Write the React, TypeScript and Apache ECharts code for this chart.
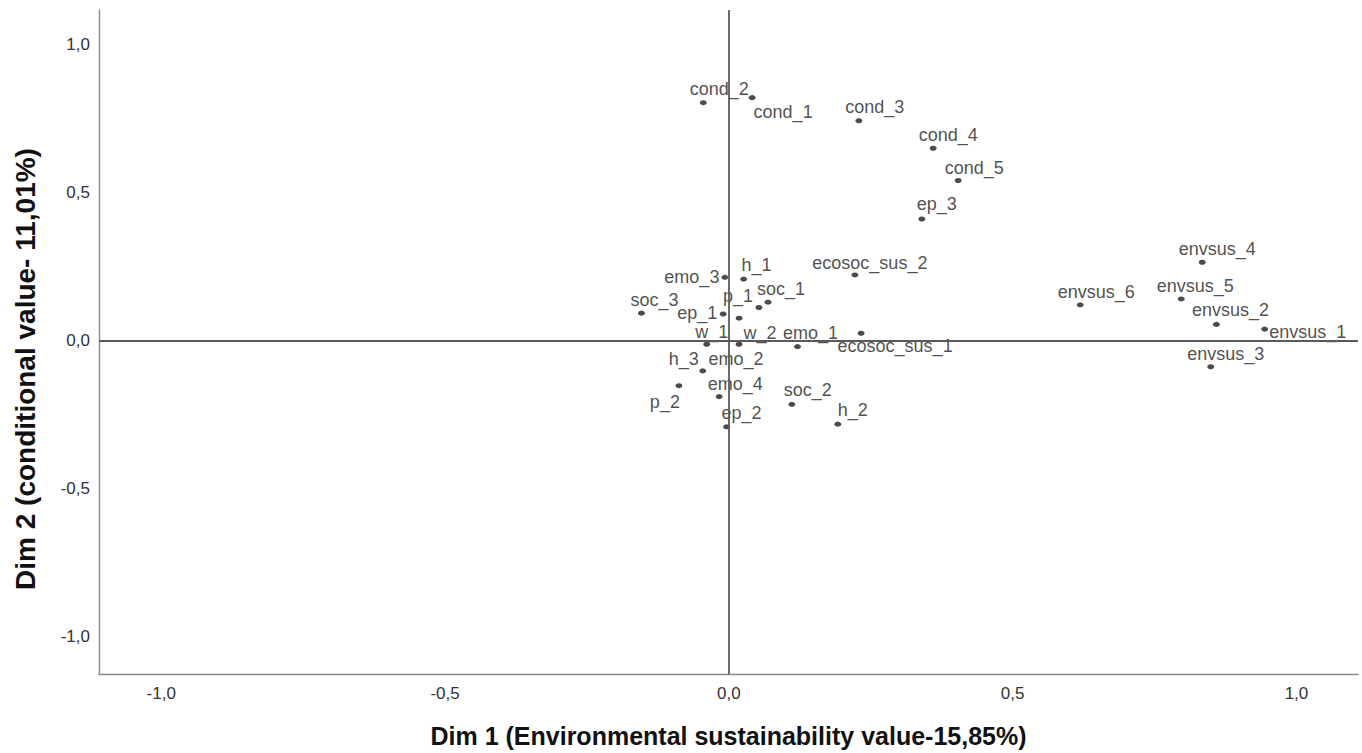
import React, { useEffect, useRef } from "react";
import * as echarts from "echarts";

// ---- data ----
const pointNames = [
  "cond_1", "cond_2", "cond_3", "cond_4", "cond_5",
  "ep_1", "ep_2", "ep_3",
  "ecosoc_sus_1", "ecosoc_sus_2",
  "h_1", "h_2", "h_3",
  "emo_1", "emo_2", "emo_3", "emo_4",
  "soc_1", "soc_2", "soc_3",
  "p_1", "p_2",
  "w_1", "w_2",
  "envsus_1", "envsus_2", "envsus_3", "envsus_4", "envsus_5", "envsus_6",
];
const dim1Values = [
  0.041, -0.045, 0.229, 0.36, 0.404,
  -0.01, -0.004, 0.34,
  0.233, 0.222,
  0.026, 0.192, -0.046,
  0.121, 0.018, -0.007, -0.017,
  0.069, 0.111, -0.154,
  0.018, -0.088,
  -0.039, 0.053,
  0.944, 0.859, 0.849, 0.834, 0.797, 0.619,
];
const dim2Values = [
  0.822, 0.805, 0.744, 0.651, 0.542,
  0.091, -0.29, 0.412,
  0.026, 0.223,
  0.209, -0.281, -0.101,
  -0.019, -0.011, 0.215, -0.188,
  0.131, -0.214, 0.094,
  0.077, -0.151,
  -0.011, 0.113,
  0.04, 0.056, -0.087, 0.266, 0.142, 0.122,
];
const tickValues = [-1, -0.5, 0, 0.5, 1];
const xAxisTitle = "Dim 1 (Environmental sustainability value-15,85%)";
const yAxisTitle = "Dim 2 (conditional value- 11,01%)";

// ---- label placement (layout, px offsets from each point) ----
const labelOffsets: [number, number][] = [
  [31, 14], [16, -14], [16, -14], [15, -13], [16, -13],
  [-26, -1], [15, -14], [15, -15],
  [34, 13], [15, -12],
  [13, -14], [15, -14], [-19, -12],
  [13, -14], [-3, 15], [-33, 0], [16, -13],
  [13, -13], [16, -14], [13, -13],
  [-1, -22], [-14, 16],
  [5, -12], [1, 25],
  [43, 3], [14, -14], [15, -13], [15, -13], [14, -13], [16, -13],
];

const fmt = (v: number) => v.toFixed(1).replace(".", ",");
const FONT = "Liberation Sans, Arial, sans-serif";

export default function App() {
  const ref = useRef<HTMLDivElement>(null);
  useEffect(() => {
    document.body.style.margin = "0";
    if (!ref.current) return;
    const chart = echarts.init(ref.current, undefined, { renderer: "svg" });
    const data = pointNames.map((n, i) => ({
      name: n,
      value: [dim1Values[i], dim2Values[i]],
      label: { offset: labelOffsets[i] },
    }));
    chart.setOption({
      animation: false,
      backgroundColor: "#ffffff",
      grid: { left: 99, right: 4, top: 10, bottom: 79 },
      xAxis: {
        type: "value",
        min: -1.1096,
        max: 1.1084,
        name: xAxisTitle,
        nameLocation: "middle",
        nameGap: 49,
        nameTextStyle: {
          fontFamily: FONT,
          fontWeight: "bold",
          fontSize: 25,
          color: "#111",
        },
        axisLine: { show: true, onZero: false, lineStyle: { color: "#8a8a8a", width: 1.4 } },
        axisTick: { show: false },
        splitLine: { show: false },
        axisLabel: {
          customValues: tickValues,
          formatter: (v: number) => fmt(v),
          fontFamily: FONT,
          fontSize: 17,
          color: "#333",
          margin: 11,
        },
      },
      yAxis: {
        type: "value",
        min: -1.125,
        max: 1.118,
        name: yAxisTitle,
        nameLocation: "middle",
        nameGap: 60,
        nameRotate: 90,
        nameTextStyle: {
          fontFamily: FONT,
          fontWeight: "bold",
          fontSize: 28,
          color: "#111",
          padding: [0, 54, 0, 0],
        },
        axisLine: { show: true, onZero: false, lineStyle: { color: "#8a8a8a", width: 1.4 } },
        axisTick: { show: false },
        splitLine: { show: false },
        axisLabel: {
          customValues: tickValues,
          formatter: (v: number) => fmt(v),
          fontFamily: FONT,
          fontSize: 17,
          color: "#333",
          margin: 9,
        },
      },
      series: [
        {
          type: "scatter",
          data,
          symbol: "circle",
          symbolSize: [7, 5],
          itemStyle: { color: "#1e1e1e" },
          label: {
            show: true,
            position: "inside",
            formatter: (p: any) => p.name,
            fontFamily: FONT,
            fontSize: 18,
            color: "#222",
          },
          markLine: {
            silent: true,
            symbol: "none",
            label: { show: false },
            lineStyle: { color: "#5a5a5a", width: 1.8, type: "solid" },
            data: [{ xAxis: 0 }, { yAxis: 0 }],
          },
          z: 3,
        },
      ],
    });
    return () => chart.dispose();
  }, []);
  return <div ref={ref} style={{ width: 1362, height: 753 }} />;
}
